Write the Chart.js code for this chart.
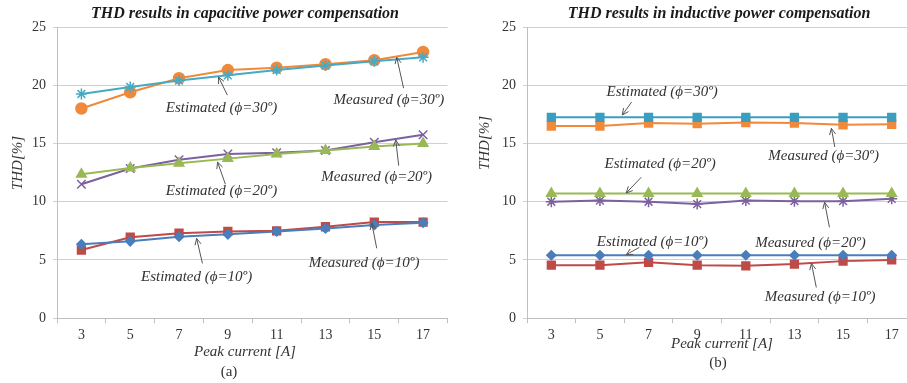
<!DOCTYPE html>
<html>
<head>
<meta charset="utf-8">
<script src="https://cdn.jsdelivr.net/npm/chart.js@4.4.0/dist/chart.umd.min.js"></script>
<style>
  html, body { margin: 0; padding: 0; background: #fff; overflow: hidden; }
  #wrap { position: relative; width: 907px; height: 383px; overflow: hidden; }
  .box { position: absolute; top: 0; height: 383px; }
</style>
</head>
<body>
<div id="wrap">
  <div class="box" style="left:0;width:455px"><canvas id="capChart"></canvas></div>
  <div class="box" style="left:455px;width:475px"><canvas id="indChart"></canvas></div>
</div>
<script>
// Peak current categories [A]
const currents = ['3', '5', '7', '9', '11', '13', '15', '17'];
const yTicks = [0, 5, 10, 15, 20, 25];

// (a) capacitive compensation, THD [%]
const capEst10 = [6.35, 6.6, 7.0, 7.2, 7.45, 7.7, 8.0, 8.2];
const capMeas10 = [5.85, 6.95, 7.3, 7.45, 7.5, 7.85, 8.25, 8.25];
const capEst20 = [12.35, 12.9, 13.3, 13.7, 14.1, 14.4, 14.75, 15.0];
const capMeas20 = [11.5, 12.85, 13.6, 14.1, 14.2, 14.4, 15.1, 15.75];
const capEst30 = [19.25, 19.85, 20.4, 20.85, 21.3, 21.7, 22.05, 22.4];
const capMeas30 = [18.0, 19.4, 20.6, 21.3, 21.5, 21.8, 22.15, 22.85];

// (b) inductive compensation, THD [%]
const indEst10 = [5.4, 5.4, 5.4, 5.4, 5.4, 5.4, 5.4, 5.4];
const indMeas10 = [4.55, 4.55, 4.8, 4.55, 4.5, 4.65, 4.9, 5.0];
const indEst20 = [10.7, 10.7, 10.7, 10.7, 10.7, 10.7, 10.7, 10.7];
const indMeas20 = [10.0, 10.1, 10.0, 9.8, 10.1, 10.05, 10.05, 10.25];
const indEst30 = [17.25, 17.25, 17.25, 17.25, 17.25, 17.25, 17.25, 17.25];
const indMeas30 = [16.5, 16.5, 16.75, 16.7, 16.8, 16.75, 16.6, 16.65];

// callouts: [text, textX, textY, tailX, tailY, headX, headY] in (category index, THD) units
const capNotes = [
    ['Estimated (\u03d5=30\u00ba)', 2.87, 18.0, 2.99, 19.15, 2.81, 20.7],
    ['Measured (\u03d5=30\u00ba)', 6.3, 18.7, 6.6, 19.75, 6.46, 22.4],
    ['Estimated (\u03d5=20\u00ba)', 2.87, 10.9, 2.95, 11.5, 2.79, 13.4],
    ['Measured (\u03d5=20\u00ba)', 6.05, 12.1, 6.5, 13.1, 6.44, 15.3],
    ['Estimated (\u03d5=10\u00ba)', 2.36, 3.5, 2.48, 4.7, 2.36, 6.85],
    ['Measured (\u03d5=10\u00ba)', 5.79, 4.7, 6.05, 6.0, 5.95, 8.15]
];
const indNotes = [
    ['Estimated (\u03d5=30\u00ba)', 2.28, 19.4, 1.65, 18.55, 1.46, 17.45],
    ['Measured (\u03d5=30\u00ba)', 5.6, 13.9, 5.83, 14.7, 5.76, 16.3],
    ['Estimated (\u03d5=20\u00ba)', 2.24, 13.2, 1.85, 12.1, 1.54, 10.75],
    ['Measured (\u03d5=20\u00ba)', 5.33, 6.45, 5.72, 7.8, 5.62, 9.95],
    ['Estimated (\u03d5=10\u00ba)', 2.08, 6.5, 1.81, 6.08, 1.54, 5.45],
    ['Measured (\u03d5=10\u00ba)', 5.53, 1.8, 5.45, 2.64, 5.35, 4.7]
];

const COLORS = {
    blue: '#4a7ebb', red: '#be4b48', green: '#98b954',
    purple: '#7d60a0', cyan: '#46aac5', teal: '#3a9ec0', orange: '#f08a3a'
};
const SERIF = '"Liberation Serif", "DejaVu Serif", serif';

function series(label, data, color, style, radius) {
    return {
        label: label,
        data: data,
        borderColor: color,
        backgroundColor: color,
        pointBackgroundColor: color,
        pointBorderColor: color,
        pointStyle: style,
        pointRadius: radius,
        pointBorderWidth: 1.5,
        borderWidth: 2,
        tension: 0
    };
}

// draws titles, axis titles and the arrow callouts
const textPlugin = {
    id: 'paperText',
    afterDraw(chart, args, opts) {
        const ctx = chart.ctx;
        const xs = chart.scales.x, ys = chart.scales.y;
        const px = i => xs.getPixelForValue(0) + i * (xs.getPixelForValue(1) - xs.getPixelForValue(0));
        ctx.save();
        ctx.fillStyle = '#1a1a1a';
        ctx.textAlign = 'center';
        ctx.textBaseline = 'middle';

        ctx.font = 'bold italic 16px ' + SERIF;
        ctx.fillText(opts.title, opts.titleX, 14);

        ctx.font = 'italic 15px ' + SERIF;
        ctx.fillStyle = '#333';
        ctx.fillText('Peak current [A]', opts.xTitleX, opts.xTitleY);
        ctx.font = '15px ' + SERIF;
        ctx.fillText(opts.tag, opts.tagX, opts.tagY);

        ctx.save();
        ctx.translate(opts.yTitleX, opts.yTitleY);
        ctx.rotate(-Math.PI / 2);
        ctx.font = 'italic 15px ' + SERIF;
        ctx.fillText('THD[%]', 0, 0);
        ctx.restore();

        ctx.font = 'italic 15px ' + SERIF;
        opts.notes.forEach(n => {
            ctx.fillStyle = '#333';
            ctx.fillText(n[0], px(n[1]), ys.getPixelForValue(n[2]));
            const x0 = px(n[3]), y0 = ys.getPixelForValue(n[4]);
            const x1 = px(n[5]), y1 = ys.getPixelForValue(n[6]);
            ctx.strokeStyle = '#555';
            ctx.lineWidth = 1;
            ctx.beginPath();
            ctx.moveTo(x0, y0);
            ctx.lineTo(x1, y1);
            const a = Math.atan2(y1 - y0, x1 - x0);
            ctx.moveTo(x1 - 7 * Math.cos(a - 0.45), y1 - 7 * Math.sin(a - 0.45));
            ctx.lineTo(x1, y1);
            ctx.lineTo(x1 - 7 * Math.cos(a + 0.45), y1 - 7 * Math.sin(a + 0.45));
            ctx.stroke();
        });
        ctx.restore();
    }
};

function makeOptions(padding, text) {
    return {
        responsive: true,
        maintainAspectRatio: false,
        animation: false,
        layout: { padding: padding },
        plugins: {
            legend: { display: false },
            tooltip: { enabled: false },
            paperText: text
        },
        scales: {
            x: {
                type: 'category',
                offset: true,
                border: { color: '#bfbfbf', width: 1 },
                grid: { offset: true, drawOnChartArea: false, drawTicks: true, tickLength: 5, color: '#bfbfbf' },
                ticks: { color: '#333', font: { family: SERIF, size: 14 }, padding: 4, maxRotation: 0 }
            },
            y: {
                min: 0,
                max: 25,
                afterBuildTicks: axis => { axis.ticks = yTicks.map(v => ({ value: v })); },
                border: { color: '#bfbfbf', width: 1 },
                grid: { color: '#d0d0d0', lineWidth: 1, drawTicks: true, tickLength: 4 },
                ticks: { color: '#333', font: { family: SERIF, size: 14 }, padding: 7 }
            }
        }
    };
}

new Chart(document.getElementById('capChart'), {
    type: 'line',
    data: {
        labels: currents,
        datasets: [
            series('Estimated (10)', capEst10, COLORS.blue, 'rectRot', 4.5),
            series('Measured (10)', capMeas10, COLORS.red, 'rect', 5.5),
            series('Estimated (20)', capEst20, COLORS.green, 'triangle', 5.5),
            series('Measured (20)', capMeas20, COLORS.purple, 'crossRot', 6),
            series('Estimated (30)', capEst30, COLORS.cyan, 'star', 5.5),
            series('Measured (30)', capMeas30, COLORS.orange, 'circle', 5.5)
        ]
    },
    options: makeOptions({ left: 25, right: 4, top: 27, bottom: 35 }, {
        title: 'THD results in capacitive power compensation',
        titleX: 245, xTitleX: 245, xTitleY: 352, tag: '(a)', tagX: 229, tagY: 372,
        yTitleX: 18, yTitleY: 163, notes: capNotes
    }),
    plugins: [textPlugin]
});

new Chart(document.getElementById('indChart'), {
    type: 'line',
    data: {
        labels: currents,
        datasets: [
            series('Estimated (10)', indEst10, COLORS.blue, 'rectRot', 4.5),
            series('Measured (10)', indMeas10, COLORS.red, 'rect', 5.5),
            series('Estimated (20)', indEst20, COLORS.green, 'triangle', 5.5),
            series('Measured (20)', indMeas20, COLORS.purple, 'star', 5.5),
            series('Estimated (30)', indEst30, COLORS.teal, 'rect', 5.5),
            series('Measured (30)', indMeas30, COLORS.orange, 'rect', 5.5)
        ]
    },
    options: makeOptions({ left: 40, right: 14, top: 27, bottom: 35 }, {
        title: 'THD results in inductive power compensation',
        titleX: 264, xTitleX: 267, xTitleY: 344, tag: '(b)', tagX: 263, tagY: 363,
        yTitleX: 30, yTitleY: 143, notes: indNotes
    }),
    plugins: [textPlugin]
});
</script>
</body>
</html>
